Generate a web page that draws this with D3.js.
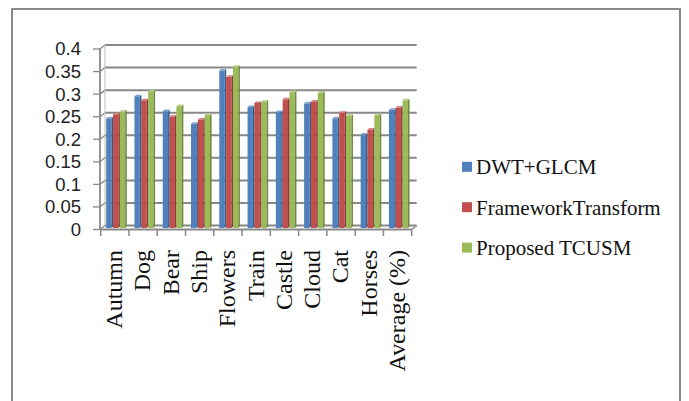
<!DOCTYPE html>
<html><head><meta charset="utf-8">
<script src="https://cdn.jsdelivr.net/npm/d3@7"></script>
<style>body{margin:0;background:#fff}svg{display:block}</style>
</head><body>
<script>
const categories = ["Autumn","Dog","Bear","Ship","Flowers","Train","Castle","Cloud","Cat","Horses","Average (%)"];
const seriesNames = ["DWT+GLCM","FrameworkTransform","Proposed TCUSM"];
const dwtGlcm = [0.241,0.290,0.257,0.229,0.347,0.266,0.255,0.274,0.241,0.205,0.260];
const frameworkTransform = [0.250,0.281,0.245,0.238,0.333,0.275,0.283,0.278,0.253,0.216,0.265];
const proposedTcusm = [0.256,0.301,0.268,0.248,0.355,0.278,0.299,0.298,0.247,0.248,0.281];
const yTicks = [0,0.05,0.1,0.15,0.2,0.25,0.3,0.35,0.4];
const yTickLabels = ["0","0.05","0.1","0.15","0.2","0.25","0.3","0.35","0.4"];
const colors = ["#4F81BD","#C0504D","#9BBB59"];
const sideColors = ["#385D8A","#8C3836","#71893F"];
const topColors = ["#7FA3D0","#D47C7A","#B7D086"];

const seriesValues = [dwtGlcm, frameworkTransform, proposedTcusm];

const W = 689, H = 401;
const svg = d3.select("body").append("svg").attr("width", W).attr("height", H);
svg.append("rect").attr("x",12).attr("y",9).attr("width",668).attr("height",400)
  .attr("fill","#fff").attr("stroke","#8a8a8a").attr("stroke-width",2);

const x = d3.scaleBand().domain(categories).range([100.7, 411.7]).padding(0);
const yF = d3.scaleLinear().domain([0,0.4]).range([229.5, 49]);
const yB = d3.scaleLinear().domain([0,0.4]).range([225.5, 45]);
const dX = 5, dY = -4;
const xs = d3.scaleBand().domain(seriesNames).range([5.5, 26]);
const gridColor = "#888888";

// back wall gridlines
const g = svg.append("g");
yTicks.forEach(t => {
  g.append("line").attr("x1",100+dX).attr("x2",x.range()[1]+dX)
    .attr("y1",yB(t)).attr("y2",yB(t)).attr("stroke",gridColor).attr("stroke-width",2);
  g.append("line").attr("x1",100).attr("x2",100+dX)
    .attr("y1",yF(t)).attr("y2",yB(t)).attr("stroke",gridColor).attr("stroke-width",1.3);
  g.append("line").attr("x1",93).attr("x2",100)
    .attr("y1",yF(t)).attr("y2",yF(t)).attr("stroke",gridColor).attr("stroke-width",1.3);
});
// back wall left edge
g.append("line").attr("x1",100+dX).attr("x2",100+dX).attr("y1",yB(0)).attr("y2",yB(0.4))
  .attr("stroke","#bdbdbd").attr("stroke-width",1);
// y axis line
g.append("line").attr("x1",100).attr("x2",100).attr("y1",yF(0)).attr("y2",yF(0.4))
  .attr("stroke",gridColor).attr("stroke-width",1.8);

// y tick labels
svg.append("g").selectAll("text").data(yTicks).join("text")
  .attr("x",81).attr("y",d=>yF(d)).attr("dy","0.35em").attr("text-anchor","end")
  .attr("font-family","Liberation Sans, Arial, sans-serif").attr("font-size",18.5).attr("fill","#222")
  .text((d,i)=>yTickLabels[i]);

// bars
const bw = xs.bandwidth();
const fw = bw - 1.5, dd = 1.6, bottom = 228;
const bars = svg.append("g");
categories.forEach((c,ci) => {
  seriesNames.forEach((s,si) => {
    const v = seriesValues[si][ci];
    const fx = x(c) + xs(s);
    const top = yB(v) + dd;
    bars.append("rect").attr("x",fx).attr("y",top).attr("width",fw).attr("height",bottom-top)
      .attr("fill",colors[si]);
    bars.append("polygon").attr("points",[[fx+fw,top],[fx+fw+dd,top-dd],[fx+fw+dd,bottom-dd],[fx+fw,bottom]].map(p=>p.join(",")).join(" "))
      .attr("fill",sideColors[si]);
    bars.append("polygon").attr("points",[[fx,top],[fx+dd,top-dd],[fx+fw+dd,top-dd],[fx+fw,top]].map(p=>p.join(",")).join(" "))
      .attr("fill",topColors[si]);
  });
});

// floor / category axis
const xr = x.range();
svg.append("line").attr("x1",xr[0]).attr("x2",xr[1]).attr("y1",yF(0)).attr("y2",yF(0))
  .attr("stroke",gridColor).attr("stroke-width",1.8);
svg.append("line").attr("x1",xr[1]).attr("x2",xr[1]+dX).attr("y1",yF(0)).attr("y2",yB(0))
  .attr("stroke",gridColor).attr("stroke-width",1.3);
const edges = categories.map(c=>x(c)).concat([xr[1]]);
svg.append("g").selectAll("line").data(edges).join("line")
  .attr("x1",d=>d).attr("x2",d=>d).attr("y1",yF(0)).attr("y2",236)
  .attr("stroke",gridColor).attr("stroke-width",1.5);

// category labels (rotated)
svg.append("g").selectAll("text").data(categories).join("text")
  .attr("transform",d=>`translate(${x(d)+x.bandwidth()/2},250) rotate(-90) scale(1,0.92)`)
  .attr("dy","0.33em").attr("text-anchor","end")
  .attr("font-family","Liberation Serif, Times New Roman, serif").attr("font-size",24).attr("fill","#111")
  .text(d=>d);

// legend
const leg = svg.append("g");
seriesNames.forEach((s,i) => {
  const by = 174.3 + i*40.4;
  leg.append("rect").attr("x",462).attr("y",by-12.5).attr("width",10).attr("height",10).attr("fill",colors[i]);
  leg.append("text").attr("x",476).attr("y",by)
    .attr("font-family","Liberation Serif, Times New Roman, serif").attr("font-size",21).attr("fill","#111")
    .text(s);
});
</script>
</body></html>
